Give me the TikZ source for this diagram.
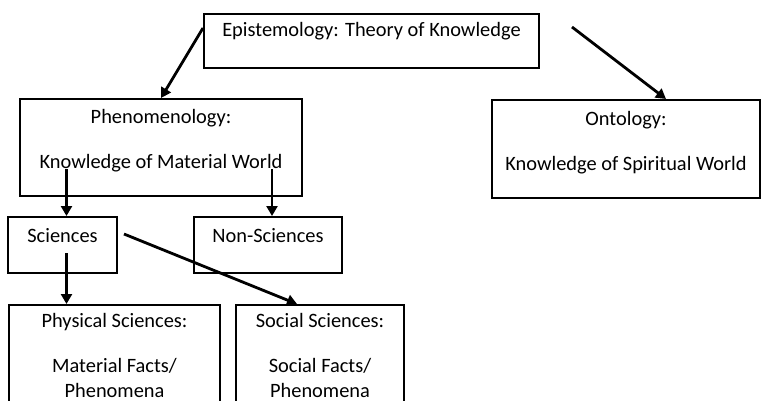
\documentclass[tikz,border=0pt]{standalone}
\usepackage{fontspec}
\setmainfont{Carlito}
\usetikzlibrary{arrows.meta}
\tikzset{
  >={Triangle[length=10pt,width=11pt]},
  box/.style={draw,line width=2pt,anchor=north west,align=center,inner sep=0pt,font=\fontsize{20.4}{25}\selectfont},
  arrow/.style={->,line width=2.8pt},
}

\begin{document}
\begin{tikzpicture}[x=1pt,y=-1pt]
  \useasboundingbox (0,0) rectangle (761,400);
  \clip (0,0) rectangle (761,400);
  \node[box,minimum width=335pt,minimum height=54pt] (epi) at (203,13) {Epistemology: Theory of Knowledge\\[-2pt]\mbox{}};
  \node[box,minimum width=282pt,minimum height=97pt] (phen) at (19,98) {Phenomenology:\\[20pt]Knowledge of Material World\\[-8pt]\mbox{}};
  \node[box,minimum width=268pt,minimum height=98pt] (onto) at (491,99) {Ontology:\\[20pt]Knowledge of Spiritual World\\[-8pt]\mbox{}};
  \node[box,minimum width=109pt,minimum height=56pt] (sci) at (7,216) {Sciences\\[-5pt]\mbox{}};
  \node[box,minimum width=148pt,minimum height=56pt] (nonsci) at (193,216) {Non-Sciences\\[-5pt]\mbox{}};
  \node[box,minimum width=211pt,minimum height=100pt] (phys) at (8,304) {Physical Sciences:\\[20pt]Material Facts/\\Phenomena};
  \node[box,minimum width=168pt,minimum height=100pt] (soc) at (235,304) {Social Sciences:\\[20pt]Social Facts/\\Phenomena};

  \draw[arrow] ([yshift=-15pt]epi.north west) -- (phen.north);
  \draw[arrow] ([shift={(32pt,-14pt)}]epi.north east) -- ([xshift=40pt]onto.north);
  \foreach \b in {sci,nonsci}
    \draw[arrow] ([xshift=4pt,yshift=28pt]phen.south -| \b.north) -- ([xshift=4pt]\b.north);
  \draw[arrow] ([shift={(4pt,-8pt)}]sci.center) -- ([xshift=4pt]sci.center |- phys.north);
  \draw[arrow] ([shift={(6pt,11pt)}]sci.east) -- ([xshift=-23pt]soc.north);
\end{tikzpicture}
\end{document}
